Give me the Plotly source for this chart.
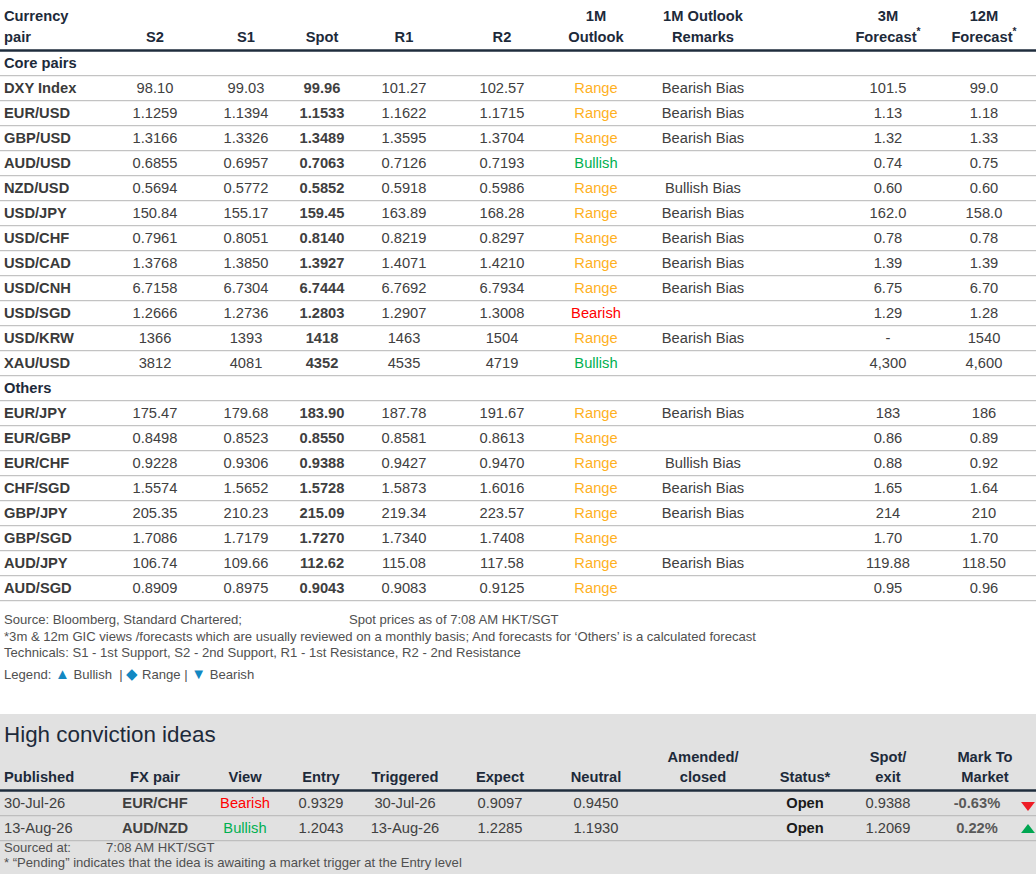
import plotly.graph_objects as go

# ---------------- data ----------------
core_pairs = ["DXY Index", "EUR/USD", "GBP/USD", "AUD/USD", "NZD/USD", "USD/JPY", "USD/CHF",
              "USD/CAD", "USD/CNH", "USD/SGD", "USD/KRW", "XAU/USD"]
core_s2 = ["98.10", "1.1259", "1.3166", "0.6855", "0.5694", "150.84", "0.7961", "1.3768", "6.7158", "1.2666", "1366", "3812"]
core_s1 = ["99.03", "1.1394", "1.3326", "0.6957", "0.5772", "155.17", "0.8051", "1.3850", "6.7304", "1.2736", "1393", "4081"]
core_spot = ["99.96", "1.1533", "1.3489", "0.7063", "0.5852", "159.45", "0.8140", "1.3927", "6.7444", "1.2803", "1418", "4352"]
core_r1 = ["101.27", "1.1622", "1.3595", "0.7126", "0.5918", "163.89", "0.8219", "1.4071", "6.7692", "1.2907", "1463", "4535"]
core_r2 = ["102.57", "1.1715", "1.3704", "0.7193", "0.5986", "168.28", "0.8297", "1.4210", "6.7934", "1.3008", "1504", "4719"]
core_outlook = ["Range", "Range", "Range", "Bullish", "Range", "Range", "Range", "Range", "Range", "Bearish", "Range", "Bullish"]
core_remarks = ["Bearish Bias", "Bearish Bias", "Bearish Bias", "", "Bullish Bias", "Bearish Bias", "Bearish Bias",
                "Bearish Bias", "Bearish Bias", "", "Bearish Bias", ""]
core_3m = ["101.5", "1.13", "1.32", "0.74", "0.60", "162.0", "0.78", "1.39", "6.75", "1.29", "-", "4,300"]
core_12m = ["99.0", "1.18", "1.33", "0.75", "0.60", "158.0", "0.78", "1.39", "6.70", "1.28", "1540", "4,600"]

other_pairs = ["EUR/JPY", "EUR/GBP", "EUR/CHF", "CHF/SGD", "GBP/JPY", "GBP/SGD", "AUD/JPY", "AUD/SGD"]
other_s2 = ["175.47", "0.8498", "0.9228", "1.5574", "205.35", "1.7086", "106.74", "0.8909"]
other_s1 = ["179.68", "0.8523", "0.9306", "1.5652", "210.23", "1.7179", "109.66", "0.8975"]
other_spot = ["183.90", "0.8550", "0.9388", "1.5728", "215.09", "1.7270", "112.62", "0.9043"]
other_r1 = ["187.78", "0.8581", "0.9427", "1.5873", "219.34", "1.7340", "115.08", "0.9083"]
other_r2 = ["191.67", "0.8613", "0.9470", "1.6016", "223.57", "1.7408", "117.58", "0.9125"]
other_outlook = ["Range"] * 8
other_remarks = ["Bearish Bias", "", "Bullish Bias", "Bearish Bias", "Bearish Bias", "", "Bearish Bias", ""]
other_3m = ["183", "0.86", "0.88", "1.65", "214", "1.70", "119.88", "0.95"]
other_12m = ["186", "0.89", "0.92", "1.64", "210", "1.70", "118.50", "0.96"]

top_head1 = ["Currency", "", "", "", "", "", "1M", "1M Outlook", "3M", "12M"]
top_head2 = ["pair", "S2", "S1", "Spot", "R1", "R2", "Outlook", "Remarks", "Forecast<sup>*</sup>", "Forecast<sup>*</sup>"]

hc_published = ["30-Jul-26", "13-Aug-26"]
hc_pair = ["EUR/CHF", "AUD/NZD"]
hc_view = ["Bearish", "Bullish"]
hc_entry = ["0.9329", "1.2043"]
hc_triggered = ["30-Jul-26", "13-Aug-26"]
hc_expect = ["0.9097", "1.2285"]
hc_neutral = ["0.9450", "1.1930"]
hc_amended = ["", ""]
hc_status = ["Open", "Open"]
hc_spot_exit = ["0.9388", "1.2069"]
hc_mtm = [-0.63, 0.22]

hc_head1 = ["", "", "", "", "", "", "", "Amended/", "", "Spot/", "Mark To"]
hc_head2 = ["Published", "FX pair", "View", "Entry", "Triggered", "Expect", "Neutral", "closed", "Status*", "exit", "Market"]

# ---------------- styling ----------------
FONT = "Liberation Sans, Arial, sans-serif"
FS = 14.7
NOTE_FS = 13.1
HEAD_C = "#1d2a3a"
VAL_C = "#404040"
NOTE_C = "#505050"
LINE_C = "#b5b5b5"
SYM_C = "#1288C2"
OUT_C = {"Range": "#FFB11F", "Bullish": "#00B050", "Bearish": "#FF0000"}

top_cols_x = [4, 155, 246, 322, 404, 502, 596, 703, 888, 984]
hc_cols_x = [4, 155, 245, 321, 405, 500, 596, 703, 805, 888, 985]

ROW0 = 63      # y of first table row ("Core pairs")
PITCH = 25
TY = 1.0       # text baseline nudge

fig = go.Figure()


def add_col(x, ys, texts, colors, bold=False, align="center", size=FS):
    if not isinstance(colors, list):
        colors = [colors] * len(texts)
    keep = [i for i, t in enumerate(texts) if t]
    if not keep:
        return
    txt = [("<b>%s</b>" % texts[i]) if bold else texts[i] for i in keep]
    fig.add_trace(go.Scatter(
        x=[x] * len(keep), y=[ys[i] + TY for i in keep], mode="text", text=txt,
        textposition="middle right" if align == "left" else "middle center",
        textfont=dict(family=FONT, size=size, color=[colors[i] for i in keep]),
        hoverinfo="skip", showlegend=False, cliponaxis=False))


# ---- main table rows ----
rows_label, rows_kind = [], []
rows_label.append("Core pairs"); rows_kind.append("section")
rows_label += core_pairs; rows_kind += ["pair"] * len(core_pairs)
rows_label.append("Others"); rows_kind.append("section")
rows_label += other_pairs; rows_kind += ["pair"] * len(other_pairs)

blank = [""]
cols = [
    blank + core_s2 + blank + other_s2,
    blank + core_s1 + blank + other_s1,
    blank + core_spot + blank + other_spot,
    blank + core_r1 + blank + other_r1,
    blank + core_r2 + blank + other_r2,
    blank + core_outlook + blank + other_outlook,
    blank + core_remarks + blank + other_remarks,
    blank + core_3m + blank + other_3m,
    blank + core_12m + blank + other_12m,
]
n_rows = len(rows_label)
ys = [ROW0 + PITCH * i for i in range(n_rows)]

# headers
add_col(top_cols_x[0], [16], [top_head1[0]], HEAD_C, bold=True, align="left")
add_col(top_cols_x[0], [37], [top_head2[0]], HEAD_C, bold=True, align="left")
for j in range(1, len(top_cols_x)):
    add_col(top_cols_x[j], [16], [top_head1[j]], HEAD_C, bold=True)
    add_col(top_cols_x[j], [37], [top_head2[j]], HEAD_C, bold=True)

# labels
lab_colors = [HEAD_C if k == "section" else "#3a3a3a" for k in rows_kind]
add_col(top_cols_x[0], ys, rows_label, lab_colors, bold=True, align="left")

for j, col in enumerate(cols):
    x = top_cols_x[j + 1]
    if j == 5:
        colors = [OUT_C.get(t, VAL_C) for t in col]
    else:
        colors = VAL_C
    add_col(x, ys, col, colors, bold=(j == 2))

# lines main table
shapes = []
shapes.append(dict(type="line", xref="x", yref="y", x0=0, x1=1036, y0=50.5, y1=50.5,
                   line=dict(color="#1f2d3d", width=2.5)))
for y in ys:
    shapes.append(dict(type="line", xref="x", yref="y", x0=0, x1=1036, y0=y + 12.7, y1=y + 12.7,
                       line=dict(color=LINE_C, width=1)))

# footer notes
def sym(s):
    return "<span style='color:%s;font-size:15px'>%s</span>" % (SYM_C, s)

notes = [
    (620, "Source: Bloomberg, Standard Chartered;"),
    (636.5, "*3m & 12m GIC views /forecasts which are usually reviewed on a monthly basis; And forecasts for ‘Others’ is a calculated forecast"),
    (653, "Technicals: S1 - 1st Support, S2 - 2nd Support, R1 - 1st Resistance, R2 - 2nd Resistance"),
    (675, "Legend: " + sym("▲") + " Bullish  | " + sym("◆") + " Range | " + sym("▼") + " Bearish"),
]
for y, t in notes:
    add_col(4, [y], [t], NOTE_C, align="left", size=NOTE_FS)
add_col(349, [620], ["Spot prices as of 7:08 AM HKT/SGT"], NOTE_C, align="left", size=NOTE_FS)

# ---- high conviction section ----
shapes.append(dict(type="rect", xref="x", yref="y", x0=0, x1=1036, y0=714, y1=874,
                   fillcolor="#e1e1e1", line=dict(width=0), layer="below"))
add_col(4, [735], ["High conviction ideas"], HEAD_C, align="left", size=22.4)

for j, x in enumerate(hc_cols_x):
    al = "left" if j == 0 else "center"
    add_col(x, [757], [hc_head1[j]], HEAD_C, bold=True, align=al)
    add_col(x, [777], [hc_head2[j]], HEAD_C, bold=True, align=al)

hys = [803, 828]
add_col(hc_cols_x[0], hys, hc_published, VAL_C, align="left")
add_col(hc_cols_x[1], hys, hc_pair, VAL_C, bold=True)
add_col(hc_cols_x[2], hys, hc_view, [OUT_C[v] for v in hc_view])
add_col(hc_cols_x[3], hys, hc_entry, VAL_C)
add_col(hc_cols_x[4], hys, hc_triggered, VAL_C)
add_col(hc_cols_x[5], hys, hc_expect, VAL_C)
add_col(hc_cols_x[6], hys, hc_neutral, VAL_C)
add_col(hc_cols_x[7], hys, hc_amended, VAL_C)
add_col(hc_cols_x[8], hys, hc_status, "#1a1a1a", bold=True)
add_col(hc_cols_x[9], hys, hc_spot_exit, VAL_C)
add_col(977, hys, ["%.2f%%" % v for v in hc_mtm], "#595959", bold=True)
fig.add_trace(go.Scatter(
    x=[1028] * len(hys), y=[y + 2 for y in hys], mode="markers",
    marker=dict(symbol=["triangle-down" if v < 0 else "triangle-up" for v in hc_mtm],
                color=["#EE1C25" if v < 0 else "#00A651" for v in hc_mtm], size=12, line=dict(width=0)),
    hoverinfo="skip", showlegend=False, cliponaxis=False))

shapes.append(dict(type="line", xref="x", yref="y", x0=0, x1=1036, y0=790.5, y1=790.5,
                   line=dict(color="#1f2d3d", width=2.5)))
for y in hys:
    shapes.append(dict(type="line", xref="x", yref="y", x0=0, x1=1036, y0=y + 12.7, y1=y + 12.7,
                       line=dict(color=LINE_C, width=1)))

add_col(4, [848], ["Sourced at:"], NOTE_C, align="left", size=NOTE_FS)
add_col(106, [848], ["7:08 AM HKT/SGT"], NOTE_C, align="left", size=NOTE_FS)
add_col(4, [862.5], ["* “Pending” indicates that the idea is awaiting a market trigger at the Entry level"],
        NOTE_C, align="left", size=NOTE_FS)

fig.update_layout(
    width=1036, height=874,
    margin=dict(l=0, r=0, t=0, b=0),
    paper_bgcolor="white", plot_bgcolor="white",
    xaxis=dict(range=[0, 1036], visible=False, fixedrange=True),
    yaxis=dict(range=[874, 0], visible=False, fixedrange=True),
    shapes=shapes,
    hovermode=False,
    showlegend=False,
)

fig.write_html("out.html", config={"displayModeBar": False},
               post_script="document.body.style.margin='0';")
